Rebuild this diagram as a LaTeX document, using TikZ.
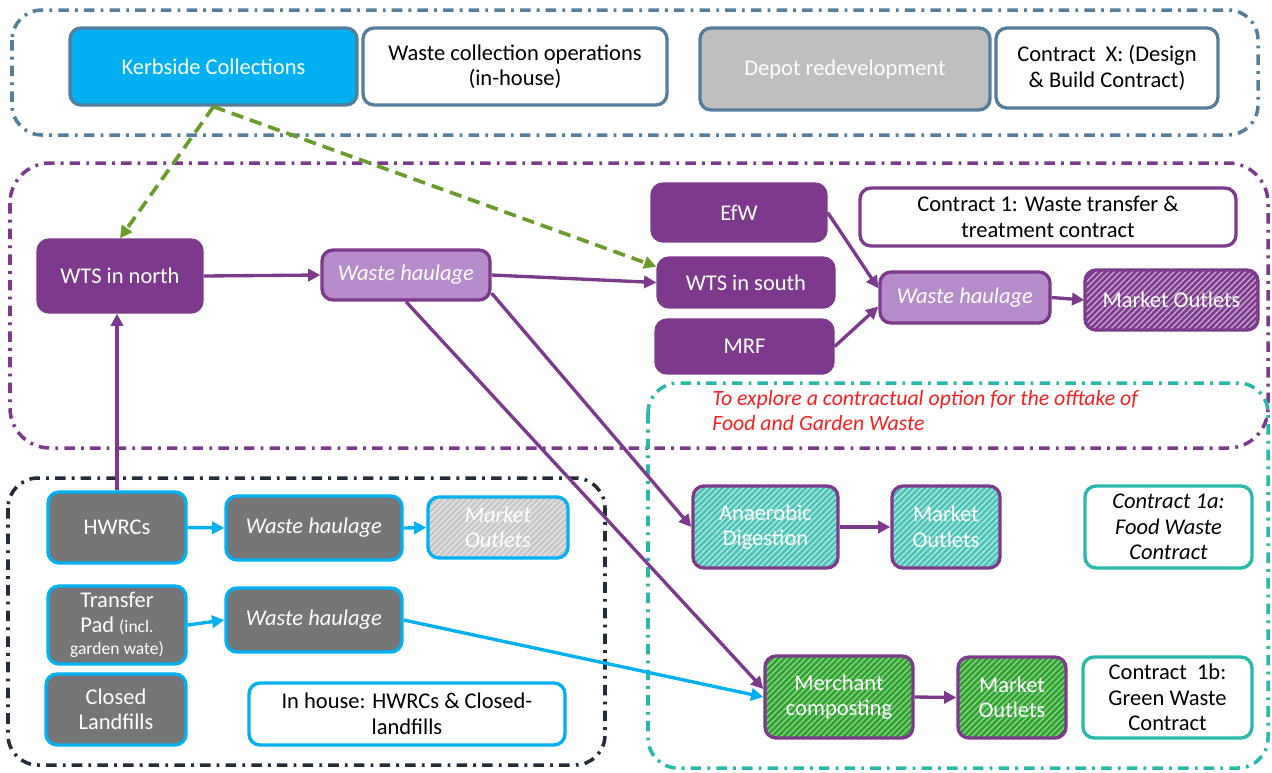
\documentclass[tikz,border=0pt]{standalone}
\usepackage{fontspec}
\setmainfont{Carlito}
\usetikzlibrary{arrows.meta,patterns.meta}

\definecolor{plum}{RGB}{125,58,140}
\definecolor{lilac}{RGB}{182,140,202}
\definecolor{skyb}{RGB}{0,176,240}
\definecolor{steel}{RGB}{84,126,156}
\definecolor{tealc}{RGB}{40,185,170}
\definecolor{slate}{RGB}{118,118,118}
\definecolor{ink}{RGB}{35,45,55}
\definecolor{leaf}{RGB}{105,155,45}
\definecolor{alert}{RGB}{250,30,30}

\begin{document}
\begin{tikzpicture}[x=0.02cm, y=-0.02cm,
  box/.style={draw, rounded corners=0.22cm, line width=1.9pt, align=center,
    inner sep=2pt, font=\fontsize{12.8}{14.5}\selectfont},
  hatch/.style 2 args={preaction={fill=#1},
    pattern={Lines[angle=45,distance=2.4pt,line width=0.8pt]}, pattern color=#2},
  topbox/.style={box, draw=steel, fill=white},
  pbox/.style={box, draw=plum, fill=plum, text=white},
  haul/.style={box, draw=plum, fill=lilac, text=white, font=\fontsize{12.8}{14.5}\selectfont\itshape},
  gbox/.style={box, draw=skyb, fill=slate, text=white},
  zone/.style={rounded corners=0.6cm, line width=2pt,
    dash pattern=on 6pt off 3.5pt on 1.6pt off 3.5pt},
  flow/.style={-{Triangle[length=7pt,width=7pt]}, line width=1.9pt, draw=plum},
  bflow/.style={flow, draw=skyb},
  gflow/.style={flow, draw=leaf, line width=2.1pt, dash pattern=on 7pt off 4pt}]
  \useasboundingbox (0,0) rectangle (1272,772);

  % dash-dot areas
  \draw[zone, steel] (12,10) rectangle (1258,135);
  \draw[zone, plum, rounded corners=0.8cm] (10,163) rectangle (1268,448);
  \draw[zone, ink] (8,478) rectangle (605,765);
  \draw[zone, tealc] (648,383) rectangle (1268,768);

  % top row
  \node[box, draw=steel, fill=skyb, text=white, minimum width=5.74cm, minimum height=1.54cm] (kerb) at (213.5,66.5) {Kerbside Collections};
  \node[topbox, minimum width=6.08cm, minimum height=1.54cm] (ops) at (515,66.5) {Waste collection operations\\(in-house)};
  \node[box, draw=steel, fill=black!25, text=white, minimum width=5.8cm, minimum height=1.64cm] (depot) at (845,69) {Depot redevelopment};
  \node[topbox, minimum width=4.44cm, minimum height=1.6cm] (conX) at (1107,68) {Contract~ X: (Design\\\& Build Contract)};

  % transfer and treatment
  \node[pbox, minimum width=3.48cm, minimum height=1.14cm] (efw) at (739,212.5) {EfW};
  \node[box, draw=plum, fill=white, minimum width=7.52cm, minimum height=1.16cm] (con1) at (1048,217) {Contract 1: Waste transfer \&\\treatment contract};
  \node[pbox, minimum width=3.28cm, minimum height=1.44cm] (wtsN) at (120,276) {WTS in north};
  \node[haul, minimum width=3.36cm, minimum height=1.0cm] (haulA) at (406,275) {Waste haulage};
  \node[pbox, minimum width=3.52cm, minimum height=0.98cm] (wtsS) at (746,282.5) {WTS in south};
  \node[pbox, minimum width=3.54cm, minimum height=1.06cm] (mrf) at (744.5,346.5) {MRF};
  \node[haul, minimum width=3.4cm, minimum height=1.02cm] (haulB) at (965,297.5) {Waste haulage};
  \node[box, draw=plum, hatch={plum}{plum!45}, text=white, minimum width=3.46cm, minimum height=1.2cm] (mktP) at (1171.5,300) {Market Outlets};

  % in house
  \node[gbox, minimum width=2.76cm, minimum height=1.42cm] (hwrc) at (117,527.5) {HWRCs};
  \node[gbox, font=\fontsize{12.8}{14.5}\selectfont\itshape, minimum width=3.52cm, minimum height=1.28cm] (haulC) at (314,528) {Waste haulage};
  \node[box, draw=skyb, hatch={black!22}{black!10}, text=white, font=\fontsize{12.8}{14.5}\selectfont\itshape, minimum width=2.8cm, minimum height=1.22cm] (mktH) at (498,527.5) {Market\\Outlets};
  \node[gbox, minimum width=2.76cm, minimum height=1.56cm] (pad) at (117,625) {Transfer\\Pad {\fontsize{10}{11}\selectfont(incl.}\\[-2pt]{\fontsize{10}{11}\selectfont garden wate)}};
  \node[gbox, font=\fontsize{12.8}{14.5}\selectfont\itshape, minimum width=3.52cm, minimum height=1.28cm] (haulD) at (314,620) {Waste haulage};
  \node[gbox, minimum width=2.8cm, minimum height=1.42cm] (land) at (116,709.5) {Closed\\Landfills};
  \node[box, draw=skyb, fill=white, minimum width=6.32cm, minimum height=1.24cm] (house) at (407,714) {In house: HWRCs \& Closed-\\landfills};

  % food and garden waste
  \node[align=left, anchor=north west, inner sep=0pt, text=alert, font=\fontsize{12.4}{14}\selectfont\itshape] (note) at (712,390) {To explore a contractual option for the offtake of\\Food and Garden Waste};
  \node[box, draw=plum, hatch={tealc!85}{tealc!35}, text=white, minimum width=2.9cm, minimum height=1.64cm] (ad) at (765.5,527) {Anaerobic\\Digestion};
  \node[box, draw=plum, hatch={tealc!85}{tealc!35}, text=white, minimum width=2.16cm, minimum height=1.64cm] (mktT) at (946,527) {Market\\Outlets};
  \node[box, draw=tealc, fill=white, font=\fontsize{12.8}{14.5}\selectfont\itshape, minimum width=3.34cm, minimum height=1.64cm] (con1a) at (1168.5,527) {Contract 1a:\\Food Waste\\Contract};
  \node[box, draw=plum, hatch={green!60!black!85}{green!45!black!40}, text=white, minimum width=2.96cm, minimum height=1.64cm] (merch) at (839,697) {Merchant\\composting};
  \node[box, draw=plum, hatch={green!60!black!85}{green!45!black!40}, text=white, minimum width=2.16cm, minimum height=1.62cm] (mktG) at (1012,697.5) {Market\\Outlets};
  \node[box, draw=tealc, fill=white, minimum width=3.38cm, minimum height=1.62cm] (con1b) at (1167.5,697.5) {Contract~ 1b:\\Green Waste\\Contract};

  % connectors
  \draw[gflow] (kerb.south) -- (wtsN.north);
  \draw[gflow] (kerb.south) -- (wtsS.170);
  \draw[flow] (hwrc.north) -- (hwrc.north |- wtsN.south);
  \draw[flow] (wtsN.east) -- (haulA.west);
  \draw[flow] (haulA.east) -- (wtsS.west);
  \draw[flow] (haulA.-12) -- (ad.west);
  \draw[flow] (haulA.south) -- (merch.174);
  \draw[flow] (efw.east) -- (haulB.174);
  \draw[flow] (mrf.east) -- (haulB.186);
  \draw[flow] (haulB.east) -- (mktP.west);
  \draw[flow] (ad.east) -- (mktT.west);
  \draw[flow] (merch.east) -- (mktG.west);
  \draw[bflow] (hwrc.east) -- (haulC.west);
  \draw[bflow] (haulC.east) -- (mktH.west);
  \draw[bflow] (pad.east) -- (haulD.west);
  \draw[bflow] (haulD.east) -- (merch.west);
\end{tikzpicture}
\end{document}
